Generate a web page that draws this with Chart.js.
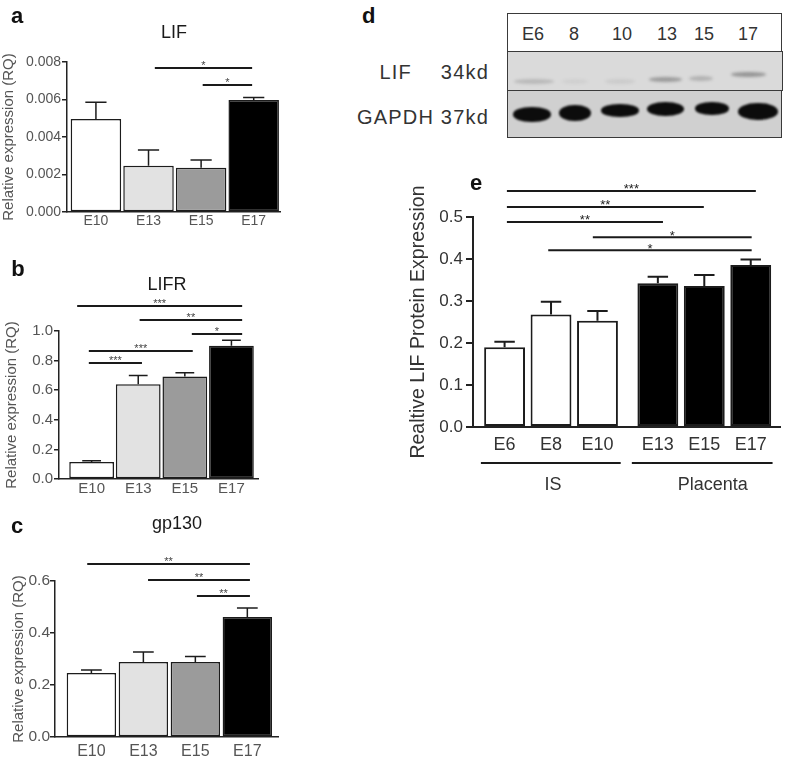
<!DOCTYPE html>
<html>
<head>
<meta charset="utf-8">
<script src="https://cdn.jsdelivr.net/npm/chart.js@4.4.1/dist/chart.umd.min.js"></script>
<style>
  body { margin: 0; background: #fff; width: 787px; height: 759px; position: relative; overflow: hidden;
         font-family: 'Liberation Sans', Arial, Helvetica, sans-serif; }
  canvas { position: absolute; }
  .blotrow { position: absolute; box-sizing: border-box; border: 1.5px solid #3a3a3a; }
  .lane { position: absolute; transform: translate(-50%, -50%); font-size: 18px; color: #333; }
  .blotlbl { position: absolute; font-size: 20px; color: #333; letter-spacing: 1.2px; white-space: nowrap; transform: translateY(-50%); }
  .band { position: absolute; border-radius: 48%; }
</style>
</head>
<body>
<canvas id="chartA" width="290" height="240" style="left:0;top:0"></canvas>
<canvas id="chartB" width="290" height="260" style="left:0;top:240px"></canvas>
<canvas id="chartC" width="290" height="259" style="left:0;top:500px"></canvas>
<canvas id="chartE" width="407" height="345" style="left:380px;top:160px"></canvas>
<div id="blot"></div>
<script>
// qPCR panels (a, b, c)
var rnaCats = ['E10', 'E13', 'E15', 'E17'];
var rnaColors = ['#ffffff', '#e2e2e2', '#9b9b9b', '#000000'];
var lifVals = [0.00496, 0.00247, 0.00236, 0.00597];
var lifErr = [0.00089, 0.00084, 0.00041, 0.00014];
var lifrVals = [0.115, 0.640, 0.693, 0.900];
var lifrErr = [0.008, 0.060, 0.025, 0.038];
var gp130Vals = [0.246, 0.288, 0.288, 0.462];
var gp130Err = [0.012, 0.039, 0.022, 0.034];

// significance bars: [from, to, height, stars]
var lifSig = [[1.12, 2.97, 0.00768, '*'], [2.03, 2.97, 0.00677, '*']];
var lifrSig = [[-0.31, 3.23, 1.169, '***'], [1.03, 3.23, 1.074, '**'], [2.15, 3.23, 0.980, '*'],
               [-0.06, 2.17, 0.865, '***'], [-0.06, 1.08, 0.784, '***']];
var gp130Sig = [[-0.08, 3.05, 0.665, '**'], [1.09, 3.05, 0.604, '**'], [2.03, 3.05, 0.542, '**']];

// western blot quantification (e)
var protCats = ['E6', 'E8', 'E10', 'E13', 'E15', 'E17'];
var protColors = ['#ffffff', '#ffffff', '#ffffff', '#000000', '#000000', '#000000'];
var protVals = [0.190, 0.268, 0.253, 0.342, 0.336, 0.386];
var protErr = [0.013, 0.030, 0.023, 0.016, 0.026, 0.013];
var protSig = [[0.05, 5.41, 0.562, '***'], [0.05, 4.29, 0.524, '**'], [0.05, 3.41, 0.488, '**'],
               [1.90, 5.32, 0.452, '*'], [0.94, 5.32, 0.421, '*']];
var protGroups = [['IS', -0.51, 2.50, 1.04], ['Placenta', 2.74, 5.77, 4.48]];

// blot (d)
var laneLabels = ['E6', '8', '10', '13', '15', '17'];
var laneTextX = [25, 66, 114, 159, 196, 240];
var gapdhBandX = [24, 67, 112, 157, 204, 250];
var gapdhBandW = [38, 32, 38, 37, 34, 40];
var gapdhBandTop = [16, 14, 13, 11, 11, 12];
var gapdhBandH = [15, 16, 13, 14, 13, 17];
var lifBandX = [26, 67, 112, 157, 193, 240];
var lifBandW = [40, 26, 30, 33, 24, 35];
var lifBandTop = [27, 27, 27, 25, 24, 20];
var lifBandAlpha = [0.18, 0.05, 0.08, 0.35, 0.22, 0.38];

var FONT = "'Liberation Sans', Arial, Helvetica, sans-serif";

var errPlugin = {
  id: 'errbars',
  afterDatasetsDraw: function (chart, args, opts) {
    var ctx = chart.ctx, ys = chart.scales.y, meta = chart.getDatasetMeta(0);
    var data = chart.data.datasets[0].data;
    ctx.save();
    ctx.strokeStyle = '#1c1c1c';
    ctx.lineWidth = opts.width;
    meta.data.forEach(function (bar, i) {
      var top = ys.getPixelForValue(data[i].y + opts.errors[i]);
      var half = bar.width * opts.cap / 2;
      ctx.beginPath();
      ctx.moveTo(bar.x, bar.y);
      ctx.lineTo(bar.x, top);
      ctx.moveTo(bar.x - half, top);
      ctx.lineTo(bar.x + half, top);
      ctx.stroke();
    });
    ctx.restore();
  }
};

var annotPlugin = {
  id: 'annot',
  afterDraw: function (chart, args, opts) {
    var ctx = chart.ctx, xs = chart.scales.x, ys = chart.scales.y;
    ctx.save();
    ctx.lineCap = 'butt';
    (opts.sig || []).forEach(function (s) {
      var x1 = xs.getPixelForValue(s[0]), x2 = xs.getPixelForValue(s[1]), y = ys.getPixelForValue(s[2]);
      ctx.strokeStyle = '#1a1a1a';
      ctx.lineWidth = opts.lw;
      ctx.beginPath(); ctx.moveTo(x1, y); ctx.lineTo(x2, y); ctx.stroke();
      ctx.fillStyle = opts.starColor;
      ctx.font = opts.starSize + 'px ' + FONT;
      ctx.textAlign = 'center';
      ctx.textBaseline = 'alphabetic';
      ctx.fillText(s[3], (x1 + x2) / 2, y - 5 + 0.57 * opts.starSize);
    });
    (opts.groups || []).forEach(function (g) {
      var x1 = xs.getPixelForValue(g[1]), x2 = xs.getPixelForValue(g[2]);
      var y = ys.getPixelForValue(opts.groupLineY);
      ctx.strokeStyle = '#1a1a1a';
      ctx.lineWidth = 2;
      ctx.beginPath(); ctx.moveTo(x1, y); ctx.lineTo(x2, y); ctx.stroke();
      ctx.fillStyle = '#333';
      ctx.font = opts.groupFont + 'px ' + FONT;
      ctx.textAlign = 'center';
      ctx.textBaseline = 'middle';
      ctx.fillText(g[0], xs.getPixelForValue(g[3]), ys.getPixelForValue(opts.groupLabelY));
    });
    (opts.texts || []).forEach(function (t) {
      ctx.fillStyle = t.color;
      ctx.font = t.font;
      ctx.textAlign = 'center';
      ctx.textBaseline = 'alphabetic';
      ctx.fillText(t.text, t.x, t.y);
    });
    ctx.restore();
  }
};

function barChart(id, c) {
  var pos = c.pos || c.cats.map(function (d, i) { return i; });
  return new Chart(document.getElementById(id), {
    type: 'bar',
    data: {
      datasets: [{
        data: c.vals.map(function (v, i) { return { x: pos[i], y: v }; }),
        backgroundColor: c.colors,
        borderColor: '#1c1c1c',
        borderWidth: c.bw,
        borderSkipped: false,
        barPercentage: c.barPct,
        categoryPercentage: 1
      }]
    },
    options: {
      responsive: false,
      animation: false,
      events: [],
      layout: { padding: { left: 0, top: c.top, right: c.right, bottom: 0 } },
      scales: {
        x: {
          type: 'linear',
          offset: false,
          min: c.xmin,
          max: c.xmax,
          afterBuildTicks: function (s) { s.ticks = pos.map(function (p) { return { value: p }; }); },
          afterFit: function (s) { s.height = c.xh; },
          grid: { display: false, drawTicks: false, offset: false },
          border: { display: true, color: '#222', width: c.aw },
          ticks: {
            autoSkip: false, maxRotation: 0,
            callback: function (v, i) { return c.cats[i]; },
            font: { family: FONT, size: c.xfs },
            color: c.tc,
            padding: c.xpad
          }
        },
        y: {
          min: 0,
          max: c.ymax,
          afterFit: function (s) { s.width = c.yw; },
          grid: { drawOnChartArea: false, tickLength: c.tl, color: '#222', lineWidth: c.aw },
          border: { display: true, color: '#222', width: c.aw },
          ticks: {
            stepSize: c.step,
            callback: function (v) { return v.toFixed(c.dec); },
            font: { family: FONT, size: c.yfs },
            color: c.tc,
            padding: c.ypad
          },
          title: {
            display: true,
            text: c.ytitle,
            font: { family: FONT, size: c.ytfs },
            color: c.tc,
            padding: { top: c.ytp, bottom: 0 }
          }
        }
      },
      plugins: {
        legend: { display: false },
        tooltip: { enabled: false },
        errbars: { errors: c.errs, width: c.ew, cap: c.cap },
        annot: c.annot
      }
    },
    plugins: [errPlugin, annotPlugin]
  });
}

var letterFont = 'bold 22px ' + FONT;
var titleFont = '18px ' + FONT;

barChart('chartA', {
  cats: rnaCats, vals: lifVals, errs: lifErr, colors: rnaColors,
  top: 62, right: 10, yw: 67, xh: 28, xmin: -0.55, xmax: 3.5, barPct: 0.96,
  ymax: 0.008, step: 0.002, dec: 3, yfs: 14, xfs: 14, ytfs: 15, ytp: 0, ypad: 1, xpad: 1, tl: 5,
  tc: '#555', aw: 1.5, bw: 1.5, ew: 1.5, cap: 0.42,
  ytitle: 'Relative expression (RQ)',
  annot: {
    sig: lifSig, lw: 2, starSize: 11, starColor: '#444',
    texts: [{ text: 'a', x: 17, y: 23, font: letterFont, color: '#111' },
            { text: 'LIF', x: 174, y: 38, font: titleFont, color: '#1a1a1a' }]
  }
});

barChart('chartB', {
  cats: rnaCats, vals: lifrVals, errs: lifrErr, colors: rnaColors,
  top: 91, right: 32, yw: 59, xh: 21, xmin: -0.70, xmax: 3.57, barPct: 0.96,
  ymax: 1.0, step: 0.2, dec: 1, yfs: 15, xfs: 15, ytfs: 15, ytp: 3, ypad: 1, xpad: 1, tl: 5,
  tc: '#555', aw: 1.5, bw: 1.5, ew: 1.5, cap: 0.42,
  ytitle: 'Relative expression (RQ)',
  annot: {
    sig: lifrSig, lw: 2, starSize: 11, starColor: '#444',
    texts: [{ text: 'b', x: 18, y: 36, font: letterFont, color: '#111' },
            { text: 'LIFR', x: 167, y: 50, font: titleFont, color: '#1a1a1a' }]
  }
});

barChart('chartC', {
  cats: rnaCats, vals: gp130Vals, errs: gp130Err, colors: rnaColors,
  top: 81, right: 12, yw: 55, xh: 22, xmin: -0.70, xmax: 3.59, barPct: 0.95,
  ymax: 0.6, step: 0.2, dec: 1, yfs: 15.5, xfs: 16, ytfs: 15, ytp: 10, ypad: 0, xpad: 5, tl: 5,
  tc: '#555', aw: 1.5, bw: 1.5, ew: 1.5, cap: 0.42,
  ytitle: 'Relative expression (RQ)',
  annot: {
    sig: gp130Sig, lw: 2, starSize: 11, starColor: '#444',
    texts: [{ text: 'c', x: 17, y: 33, font: letterFont, color: '#111' },
            { text: 'gp130', x: 177, y: 29, font: titleFont, color: '#1a1a1a' }]
  }
});

barChart('chartE', {
  cats: protCats, vals: protVals, errs: protErr, colors: protColors,
  pos: protCats.map(function (d, i) { return i + (i >= 3 ? 0.3 : 0); }),
  top: 57, right: 7, yw: 93, xh: 78, xmin: -0.68, xmax: 5.93, barPct: 0.88,
  ymax: 0.5, step: 0.1, dec: 1, yfs: 17, xfs: 18, ytfs: 19.5, ytp: 27, ypad: 3, xpad: 7, tl: 7,
  tc: '#333', aw: 2, bw: 2, ew: 2, cap: 0.5,
  ytitle: 'Realtive LIF Protein Expression',
  annot: {
    sig: protSig, lw: 2, starSize: 13, starColor: '#222',
    groups: protGroups, groupLineY: -0.0857, groupLabelY: -0.138, groupFont: 18,
    texts: [{ text: 'e', x: 96, y: 30, font: letterFont, color: '#111' }]
  }
});

// panel d: western blot drawn as plain page elements
(function () {
  var blot = document.getElementById('blot');
  function el(cls, css, text) {
    var d = document.createElement('div');
    d.className = cls;
    d.style.cssText = css;
    if (text) d.textContent = text;
    blot.appendChild(d);
    return d;
  }
  el('blotlbl', 'left:362px;top:16px;font-weight:bold;font-size:22px;color:#111;letter-spacing:0;', 'd');
  var head = el('blotrow', 'left:507px;top:13px;width:275px;height:40px;background:#fff;');
  var lif = el('blotrow', 'left:507px;top:51px;width:276px;height:40px;background:#dadada;');
  var gap = el('blotrow', 'left:507px;top:90px;width:275px;height:48px;background:#d0d0d0;');
  laneLabels.forEach(function (t, i) {
    var d = document.createElement('div');
    d.className = 'lane';
    d.style.cssText = 'left:' + laneTextX[i] + 'px;top:20px;';
    d.textContent = t;
    head.appendChild(d);
  });
  lifBandX.forEach(function (x, i) {
    var b = document.createElement('div');
    b.className = 'band';
    b.style.cssText = 'left:' + (x - lifBandW[i] / 2) + 'px;top:' + lifBandTop[i] + 'px;width:' + lifBandW[i] +
      'px;height:5px;background:rgba(40,40,40,' + lifBandAlpha[i] + ');filter:blur(1.5px);';
    lif.appendChild(b);
  });
  gapdhBandX.forEach(function (x, i) {
    var b = document.createElement('div');
    b.className = 'band';
    b.style.cssText = 'left:' + (x - gapdhBandW[i] / 2) + 'px;top:' + gapdhBandTop[i] + 'px;width:' + gapdhBandW[i] +
      'px;height:' + gapdhBandH[i] + 'px;background:#0c0c0c;filter:blur(1px);';
    gap.appendChild(b);
  });
  el('blotlbl', 'right:375px;top:72px;', 'LIF');
  el('blotlbl', 'right:298px;top:72px;', '34kd');
  el('blotlbl', 'right:298px;top:117px;', 'GAPDH 37kd');
})();
</script>
</body>
</html>
